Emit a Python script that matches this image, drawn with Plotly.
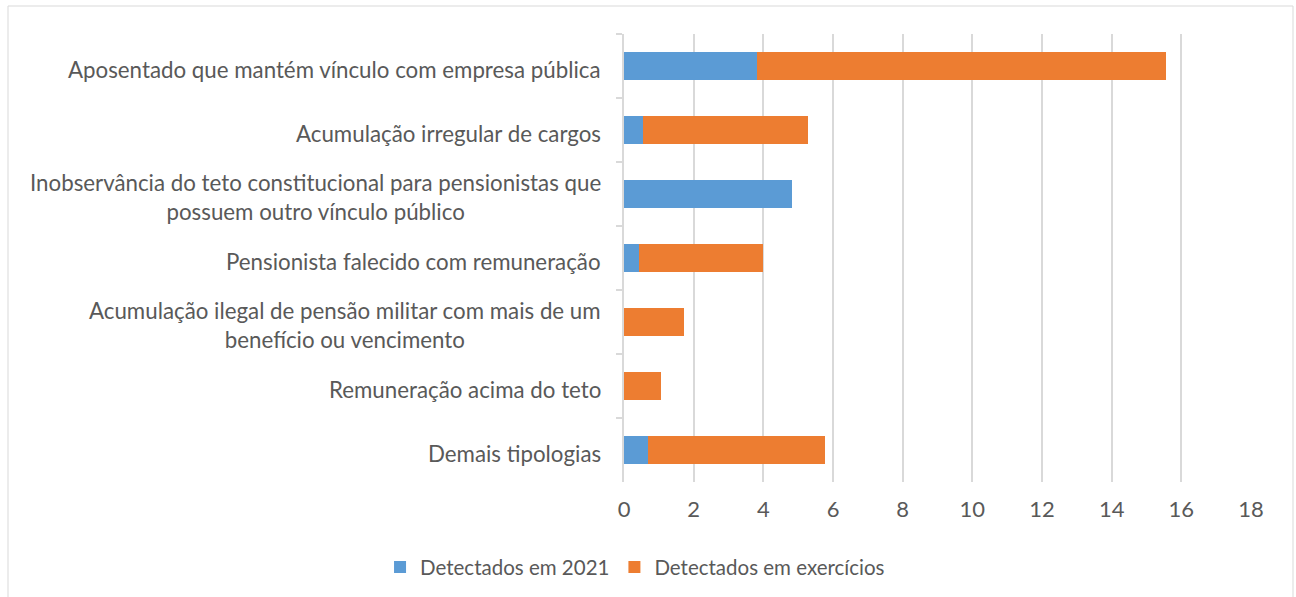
import plotly.graph_objects as go

categories = [
    "Aposentado que mantém vínculo com empresa pública",
    "Acumulação irregular de cargos",
    "Inobservância do teto constitucional para pensionistas que<br>possuem outro vínculo público",
    "Pensionista falecido com remuneração",
    "Acumulação ilegal de pensão militar com mais de um<br>benefício ou vencimento",
    "Remuneração acima do teto",
    "Demais tipologias",
]
detectados_2021 = [3.83, 0.55, 4.82, 0.43, 0, 0, 0.68]
detectados_exercicios = [11.72, 4.73, 0, 3.56, 1.72, 1.06, 5.09]
series_names = ["Detectados em 2021", "Detectados em exercícios"]
x_ticks = [0, 2, 4, 6, 8, 10, 12, 14, 16, 18]

BLUE = "#5B9BD5"
ORANGE = "#ED7D31"
GRID = "#D9D9D9"
TEXT = "#595959"
FONT = "Lato"

W, H = 1296, 597
L, R, T, B = 624, 45, 34, 115

fig = go.Figure()
fig.add_trace(go.Bar(y=categories, x=detectados_2021, orientation="h",
                     name=series_names[0], marker=dict(color=BLUE, line=dict(width=0))))
fig.add_trace(go.Bar(y=categories, x=detectados_exercicios, orientation="h",
                     name=series_names[1], marker=dict(color=ORANGE, line=dict(width=0))))

annotations = []
for c in categories:
    annotations.append(dict(
        x=0, xref="paper", y=c, yref="y", text=c, showarrow=False,
        xanchor="right", yanchor="middle", xshift=-21, yshift=-3, align="center",
        font=dict(family=FONT, size=22.3, color=TEXT),
    ))

pw = W - L - R
ph = H - T - B
def px_x(p):
    return (p - L) / pw
def px_y(p):
    return (H - B - p) / ph

fig.update_layout(
    width=W, height=H,
    margin=dict(l=L, r=R, t=T, b=B),
    paper_bgcolor="white", plot_bgcolor="white",
    barmode="stack", bargap=0.57,
    font=dict(family=FONT, size=20, color=TEXT),
    showlegend=True,
    legend=dict(orientation="h", xref="container", yref="container",
                x=0.49, y=0.05, xanchor="center", yanchor="middle",
                font=dict(family=FONT, size=20.5, color=TEXT),
                itemclick=False, traceorder="normal"),
    xaxis=dict(range=[0, 18], tickvals=x_ticks, showgrid=True, gridcolor=GRID,
               gridwidth=1.5, zeroline=False, showline=False, ticks="",
               ticklabelstandoff=12,
               tickfont=dict(family=FONT, size=22, color=TEXT), fixedrange=True),
    yaxis=dict(autorange="reversed", showticklabels=False, showgrid=False,
               showline=True, linecolor=GRID, linewidth=1.5, ticks="outside",
               tickson="boundaries", ticklen=6, tickcolor=GRID, tickwidth=1.5,
               zeroline=False, fixedrange=True),
    annotations=annotations,
    shapes=[dict(type="rect", xref="paper", yref="paper",
                 x0=px_x(8), x1=px_x(1293), y0=px_y(602), y1=px_y(6),
                 line=dict(color=GRID, width=1), fillcolor="rgba(0,0,0,0)", layer="below")],
)

fig.write_html(
    "out.html",
    config={"displayModeBar": False},
    post_script="document.body.style.margin='0';document.body.style.overflow='hidden';",
)
